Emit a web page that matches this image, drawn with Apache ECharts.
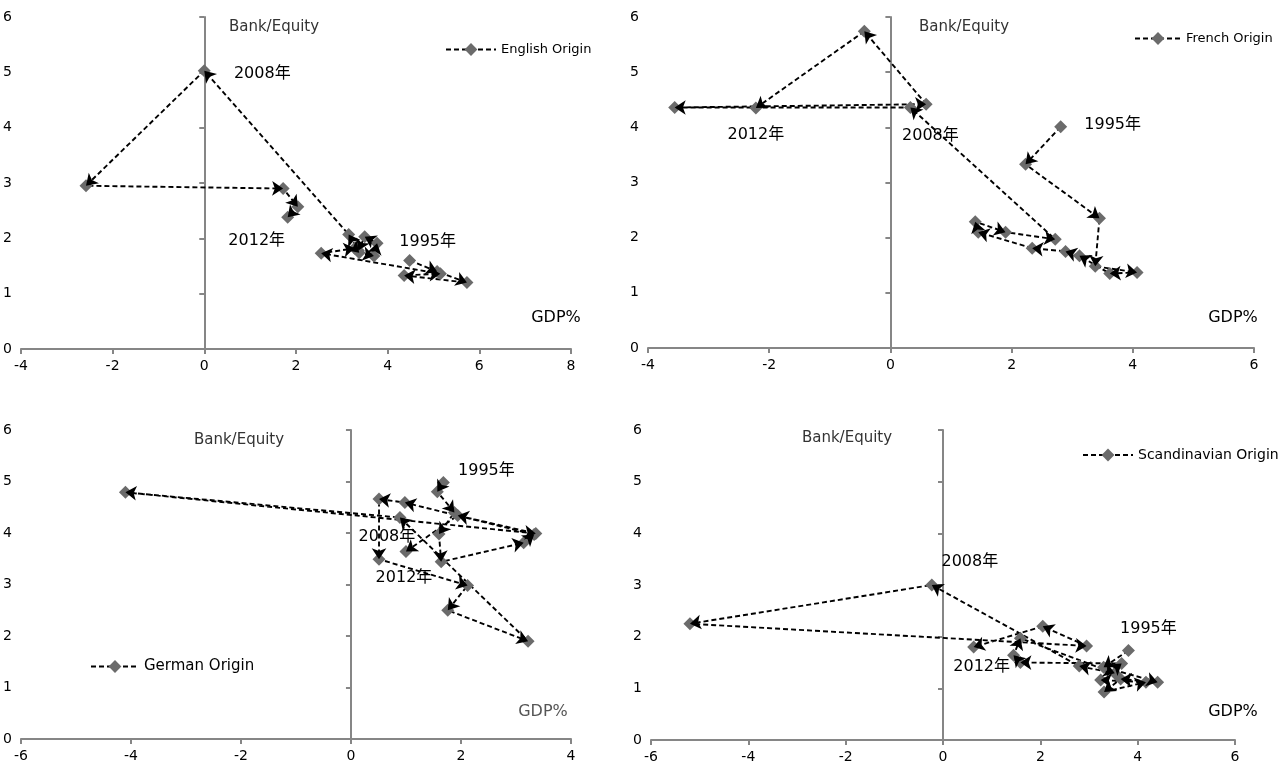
<!DOCTYPE html>
<html>
<head>
<meta charset="utf-8">
<script src="https://cdn.jsdelivr.net/npm/echarts@6/dist/echarts.min.js"></script>
<style>
  html, body { margin: 0; background: #fff; }
  #chart { width: 1282px; height: 773px; }
</style>
</head>
<body>
<div id="chart"></div>
<script>
// years along each path
const years = [1995, 1996, 1997, 1998, 1999, 2000, 2001, 2002, 2003, 2004, 2005, 2006, 2007, 2008, 2009, 2010, 2011, 2012];

// GDP% (x) and Bank/Equity (y)
const englishGdp   = [4.48, 5.08, 5.73, 4.36, 5.15, 2.55, 3.28, 3.38, 3.70, 3.77, 3.50, 3.36, 3.15, 0.00, -2.58, 1.72, 2.04, 1.82];
const englishRatio = [1.60, 1.40, 1.20, 1.33, 1.36, 1.73, 1.82, 1.74, 1.68, 1.91, 2.03, 1.78, 2.07, 5.03, 2.95, 2.90, 2.57, 2.38];

const frenchGdp   = [2.81, 2.23, 3.45, 3.38, 4.07, 3.62, 3.12, 2.89, 2.34, 1.45, 1.40, 1.90, 2.72, 0.33, -3.56, 0.59, -0.43, -2.22];
const frenchRatio = [4.01, 3.33, 2.35, 1.48, 1.37, 1.35, 1.67, 1.75, 1.81, 2.10, 2.29, 2.10, 1.97, 4.36, 4.36, 4.42, 5.74, 4.35];

const germanGdp   = [1.68, 1.57, 1.88, 1.60, 1.64, 3.14, 3.33, 0.98, 0.51, 0.51, 2.12, 1.76, 3.22, 0.89, -4.10, 3.36, 1.94, 1.00];
const germanRatio = [4.98, 4.80, 4.40, 3.98, 3.44, 3.81, 3.97, 4.59, 4.66, 3.49, 2.98, 2.50, 1.90, 4.30, 4.79, 3.99, 4.34, 3.64];

const scandGdp   = [3.81, 3.30, 4.41, 3.65, 3.31, 4.17, 3.24, 3.67, 1.59, 1.45, 1.59, 3.53, 2.80, -0.23, -5.20, 2.95, 2.05, 0.63];
const scandRatio = [1.73, 1.41, 1.12, 1.18, 0.93, 1.12, 1.16, 1.48, 1.50, 1.64, 1.97, 1.29, 1.43, 3.00, 2.25, 1.82, 2.20, 1.80];

const yTicks = [0, 1, 2, 3, 4, 5, 6];

const FONT = "'DejaVu Sans', 'Noto Sans CJK SC', sans-serif";
const AXIS_GRAY = '#868686';

// panel layout (pixels) and extras
const panels = [
  {
    name: 'English Origin', gdp: englishGdp, ratio: englishRatio, xMin: -4, xMax: 8,
    grid: { left: 16, top: 17, width: 555, height: 332 },
    legend: { left: 440, top: 38, fontSize: 13, itemWidth: 50 },
    yName: [274, 27], xName: [556, 318],
    labels: { 1995: [18, -19], 2008: [58, 3], 2012: [-31, 24] },
  },
  {
    name: 'French Origin', gdp: frenchGdp, ratio: frenchRatio, xMin: -4, xMax: 6,
    grid: { left: 648, top: 17, width: 606, height: 331 },
    legend: { left: 1129, top: 27, fontSize: 13, itemWidth: 46 },
    yName: [964, 27], xName: [1233, 318],
    labels: { 1995: [52, -2], 2008: [20, 28], 2012: [0, 27] },
  },
  {
    name: 'German Origin', gdp: germanGdp, ratio: germanRatio, xMin: -6, xMax: 4,
    grid: { left: 20, top: 430, width: 551, height: 309 },
    legend: { left: 85, top: 654, fontSize: 15, itemWidth: 48 },
    yName: [239, 440], xName: [543, 712],
    labels: { 1995: [43, -12], 2008: [-13, 19], 2012: [-2, 26] },
  },
  {
    name: 'Scandinavian Origin', gdp: scandGdp, ratio: scandRatio, xMin: -6, xMax: 6,
    grid: { left: 651, top: 430, width: 584, height: 310 },
    legend: { left: 1077, top: 443, fontSize: 14, itemWidth: 50 },
    yName: [847, 438], xName: [1233, 712],
    labels: { 1995: [20, -22], 2008: [38, -23], 2012: [8, 20] },
  },
];

const chart = echarts.init(document.getElementById('chart'));

const grids = [], xAxes = [], yAxes = [], series = [], legends = [], texts = [];

panels.forEach((p, i) => {
  grids.push(Object.assign({ containLabel: false }, p.grid));

  const axisCommon = {
    gridIndex: i,
    type: 'value',
    splitLine: { show: false },
    axisLine: { show: true, onZero: true, lineStyle: { color: AXIS_GRAY, width: 2 } },
    axisTick: { show: true, length: 5, lineStyle: { color: AXIS_GRAY, width: 2 } },
  };
  xAxes.push(Object.assign({}, axisCommon, {
    min: p.xMin, max: p.xMax, interval: 2,
    axisLabel: { color: '#000', fontSize: 14, fontFamily: FONT, margin: 10 },
  }));
  yAxes.push(Object.assign({}, axisCommon, {
    min: yTicks[0], max: yTicks[yTicks.length - 1], interval: 1,
    axisLabel: { color: '#000', fontSize: 14, fontFamily: FONT, margin: 9 },
  }));

  const pts = years.map((yr, k) => {
    const item = { value: [p.gdp[k], p.ratio[k]] };
    if (p.labels[yr]) {
      item.label = { show: true, formatter: yr + '年', position: 'inside', offset: p.labels[yr] };
    }
    return item;
  });

  // dashed path with diamond markers
  series.push({
    type: 'line',
    name: p.name,
    xAxisIndex: i, yAxisIndex: i,
    data: pts,
    symbol: 'diamond',
    symbolSize: 13,
    showAllSymbol: true,
    itemStyle: { color: '#6b6b6b' },
    lineStyle: { color: '#000', width: 1.9, type: [5, 3] },
    label: { show: false, color: '#000', fontSize: 16, fontFamily: FONT },
    emphasis: { disabled: true },
    animation: false,
    z: 2,
  });

  // arrowheads at the end of every step
  const segs = [];
  for (let k = 1; k < years.length; k++) {
    segs.push({ coords: [[p.gdp[k - 1], p.ratio[k - 1]], [p.gdp[k], p.ratio[k]]] });
  }
  series.push({
    type: 'lines',
    coordinateSystem: 'cartesian2d',
    xAxisIndex: i, yAxisIndex: i,
    data: segs,
    symbol: ['none', 'arrow'],
    symbolSize: 11,
    lineStyle: { color: '#000', width: 0, opacity: 1 },
    silent: true,
    animation: false,
    z: 3,
  });

  legends.push({
    data: [p.name],
    left: p.legend.left, top: p.legend.top,
    itemWidth: p.legend.itemWidth, itemHeight: 16, itemGap: 4,
    textStyle: { color: '#000', fontSize: p.legend.fontSize, fontFamily: FONT },
    selectedMode: false,
  });

  texts.push({
    type: 'text', x: p.yName[0], y: p.yName[1],
    style: { text: 'Bank/Equity', fill: '#333', font: '15px ' + FONT, textAlign: 'center', textVerticalAlign: 'middle' },
  });
  texts.push({
    type: 'text', x: p.xName[0], y: p.xName[1],
    style: { text: 'GDP%', fill: i === 2 ? '#555' : '#000', font: '16px ' + FONT, textAlign: 'center', textVerticalAlign: 'middle' },
  });
});

chart.setOption({
  backgroundColor: '#fff',
  animation: false,
  grid: grids,
  xAxis: xAxes,
  yAxis: yAxes,
  legend: legends,
  graphic: texts,
  series: series,
});
</script>
</body>
</html>
